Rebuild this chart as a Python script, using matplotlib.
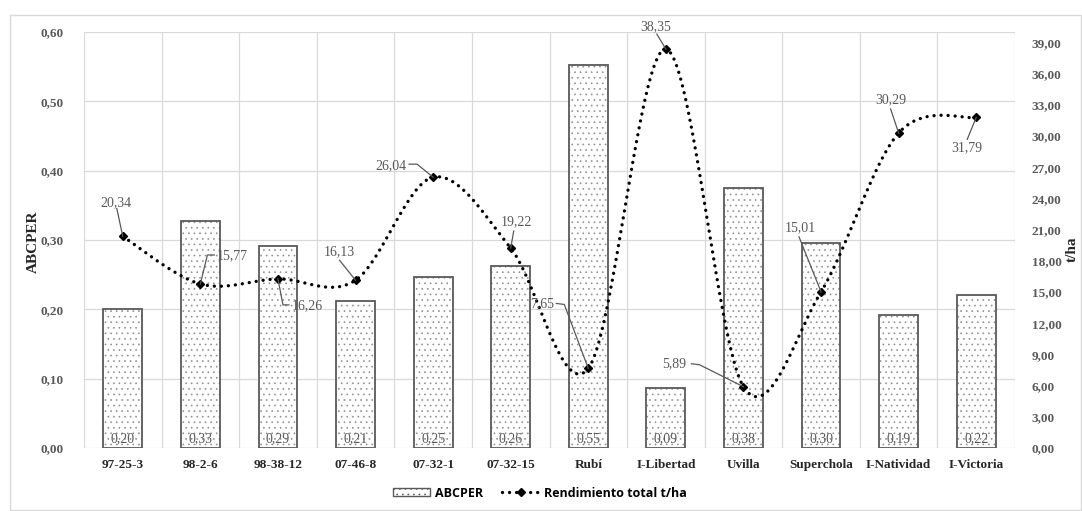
import numpy as np
import matplotlib
matplotlib.use("Agg")
import matplotlib.pyplot as plt
from matplotlib.lines import Line2D
from matplotlib.patches import Rectangle, Patch
from matplotlib.transforms import IdentityTransform
from matplotlib.ticker import FuncFormatter

categories = ["97-25-3", "98-2-6", "98-38-12", "07-46-8", "07-32-1", "07-32-15",
              "Rubí", "I-Libertad", "Uvilla", "Superchola", "I-Natividad", "I-Victoria"]
abcper = [0.200, 0.327, 0.291, 0.212, 0.246, 0.262, 0.552, 0.086, 0.375, 0.296, 0.192, 0.220]
rendimiento = [20.34, 15.77, 16.26, 16.13, 26.04, 19.22, 7.65, 38.35, 5.89, 15.01, 30.29, 31.79]

plt.rcParams['hatch.linewidth'] = 0.45
SERIF = ["Liberation Serif", "DejaVu Serif"]
GREY = "#595959"
HATCH_GREY = "#8c8c8c"

W, H = 1082, 511
fig = plt.figure(figsize=(W / 100, H / 100), dpi=100)
fig.patches.append(Rectangle((10 / W, 1 / H), (W - 11) / W, (H - 16) / H, transform=fig.transFigure,
                             fill=False, edgecolor="#d9d9d9", linewidth=1.0))

ax = fig.add_axes([84 / W, (H - 448) / H, (1015 - 84) / W, (448 - 32) / H])
n = len(categories)
x = np.arange(n)

ax.set_xlim(-0.5, n - 0.5)
ax.set_ylim(0, 0.6)
for b in np.arange(-0.5, n, 1.0):
    ax.axvline(b, color="#d9d9d9", lw=0.9, zorder=0)
for t in np.arange(0, 0.61, 0.1):
    ax.axhline(t, color="#d9d9d9", lw=0.9, zorder=0)

ax.bar(x, abcper, width=0.5, facecolor="white", edgecolor=HATCH_GREY, hatch="...",
       linewidth=0, zorder=2)
ax.bar(x, abcper, width=0.5, facecolor="none", edgecolor=GREY, linewidth=1.3, zorder=2.5)
for i, v in enumerate(abcper):
    ax.text(i, 0.004, f"{v:.2f}".replace(".", ","), ha="center", va="bottom",
            fontsize=10, family=SERIF, color=GREY, zorder=3)

for s in ax.spines.values():
    s.set_visible(False)
ax.tick_params(length=0)
ax.set_yticks(np.arange(0, 0.61, 0.1))
ax.yaxis.set_major_formatter(FuncFormatter(lambda v, p: f"{v:.2f}".replace(".", ",")))
ax.tick_params(axis="y", pad=15)
ax.tick_params(axis="x", pad=8)
ax.set_xticks(x)
ax.set_xticklabels(categories)
for lab in ax.get_yticklabels():
    lab.set_family(SERIF); lab.set_fontsize(9.5); lab.set_fontweight("bold"); lab.set_color(GREY)
for lab in ax.get_xticklabels():
    lab.set_family(SERIF); lab.set_fontsize(9.5); lab.set_fontweight("bold"); lab.set_color("#262626")

fig.text(33 / W, 1 - 242 / H, "ABCPER", rotation=90, ha="center", va="center",
         family=SERIF, fontsize=11, fontweight="bold", color="#262626")
fig.text(1072 / W, 1 - 249 / H, "t/ha", rotation=90, ha="center", va="center",
         family=SERIF, fontsize=11, fontweight="bold", color="#262626")

ax2 = ax.twinx()
ax2.set_ylim(0, 40)
ax2.set_yticks(np.arange(0, 40, 3))
ax2.yaxis.set_major_formatter(FuncFormatter(lambda v, p: f"{v:.2f}".replace(".", ",")))
ax2.tick_params(length=0, pad=12)
for s in ax2.spines.values():
    s.set_visible(False)
for lab in ax2.get_yticklabels():
    lab.set_family(SERIF); lab.set_fontsize(9.5); lab.set_fontweight("bold"); lab.set_color(GREY)

# smoothed line (Bezier smoothing like Excel)
P = np.column_stack([x.astype(float), np.array(rendimiento, float)])
Pe = np.vstack([P[0], P, P[-1]])
curve = []
ts = np.linspace(0, 1, 40)
for i in range(n - 1):
    p0, p1, p2, p3 = Pe[i], Pe[i + 1], Pe[i + 2], Pe[i + 3]
    c1 = p1 + (p2 - p0) / 6.0
    c2 = p2 - (p3 - p1) / 6.0
    for t in (ts[:-1] if i < n - 2 else ts):
        b = ((1 - t) ** 3) * p1 + 3 * ((1 - t) ** 2) * t * c1 + 3 * (1 - t) * t * t * c2 + t ** 3 * p2
        curve.append(b)
curve = np.array(curve)
ax2.plot(curve[:, 0], curve[:, 1], color="black", lw=2.4, linestyle=(0, (0.01, 2.1)),
         dash_capstyle="round", zorder=4, clip_on=False)
ax2.plot(x, rendimiento, linestyle="none", marker="D", markersize=4.2, color="black", zorder=5,
         clip_on=False)

# data labels with leader lines (offsets in pixels relative to point)
lab_off = [(-7, 34), (32, 28), (29, -27), (-16, 29), (-42, 11), (6, 26),
           (-46, 65), (-10, 22), (-69, 23), (-21, 64), (-8, 33), (-9, -30)]
lead_start = [(-6, 28), (14, 29), (11, -26), (-16, 20), (-24, 13), (3, 17),
              (-32, 65), (-9, 15), (-52, 23), (-22, 55), (-8, 24), (-9, -22)]
lead_knee = [None, (7, 29), (5, -26), None, (-16, 13), None,
             (-24, 64), None, (-44, 22), None, None, None]

fig.canvas.draw()
for i, v in enumerate(rendimiento):
    px, py = ax2.transData.transform((i, v))
    dx, dy = lab_off[i]
    fig.text((px + dx) / W, (py + dy) / H, f"{v:.2f}".replace(".", ","), ha="center", va="center",
             family=SERIF, fontsize=10, color=GREY, zorder=6)
    pts = [(px + lead_start[i][0], py + lead_start[i][1])]
    if lead_knee[i] is not None:
        pts.append((px + lead_knee[i][0], py + lead_knee[i][1]))
    pts.append((px, py))
    pts = np.array(pts)
    fig.lines.append(Line2D(pts[:, 0], pts[:, 1], transform=IdentityTransform(),
                            color=GREY, lw=0.9, zorder=6))

# legend
h1 = Patch(facecolor="white", edgecolor=GREY, hatch="...", linewidth=1.0)
h2 = Line2D([0], [0], color="black", lw=2.4, linestyle=(0, (0.01, 2.1)), dash_capstyle="round",
            marker="D", markersize=4.2)
fig.legend([h1, h2], ["ABCPER", "Rendimiento total t/ha"], loc="center",
           bbox_to_anchor=(540 / W, 1 - 493 / H), ncol=2, frameon=False,
           prop={"family": ["Open Sans", "DejaVu Sans"], "size": 9, "weight": "bold"},
           handlelength=3.0, handleheight=0.6, columnspacing=1.5, handletextpad=0.4)

fig.savefig("out.png", dpi=100)
